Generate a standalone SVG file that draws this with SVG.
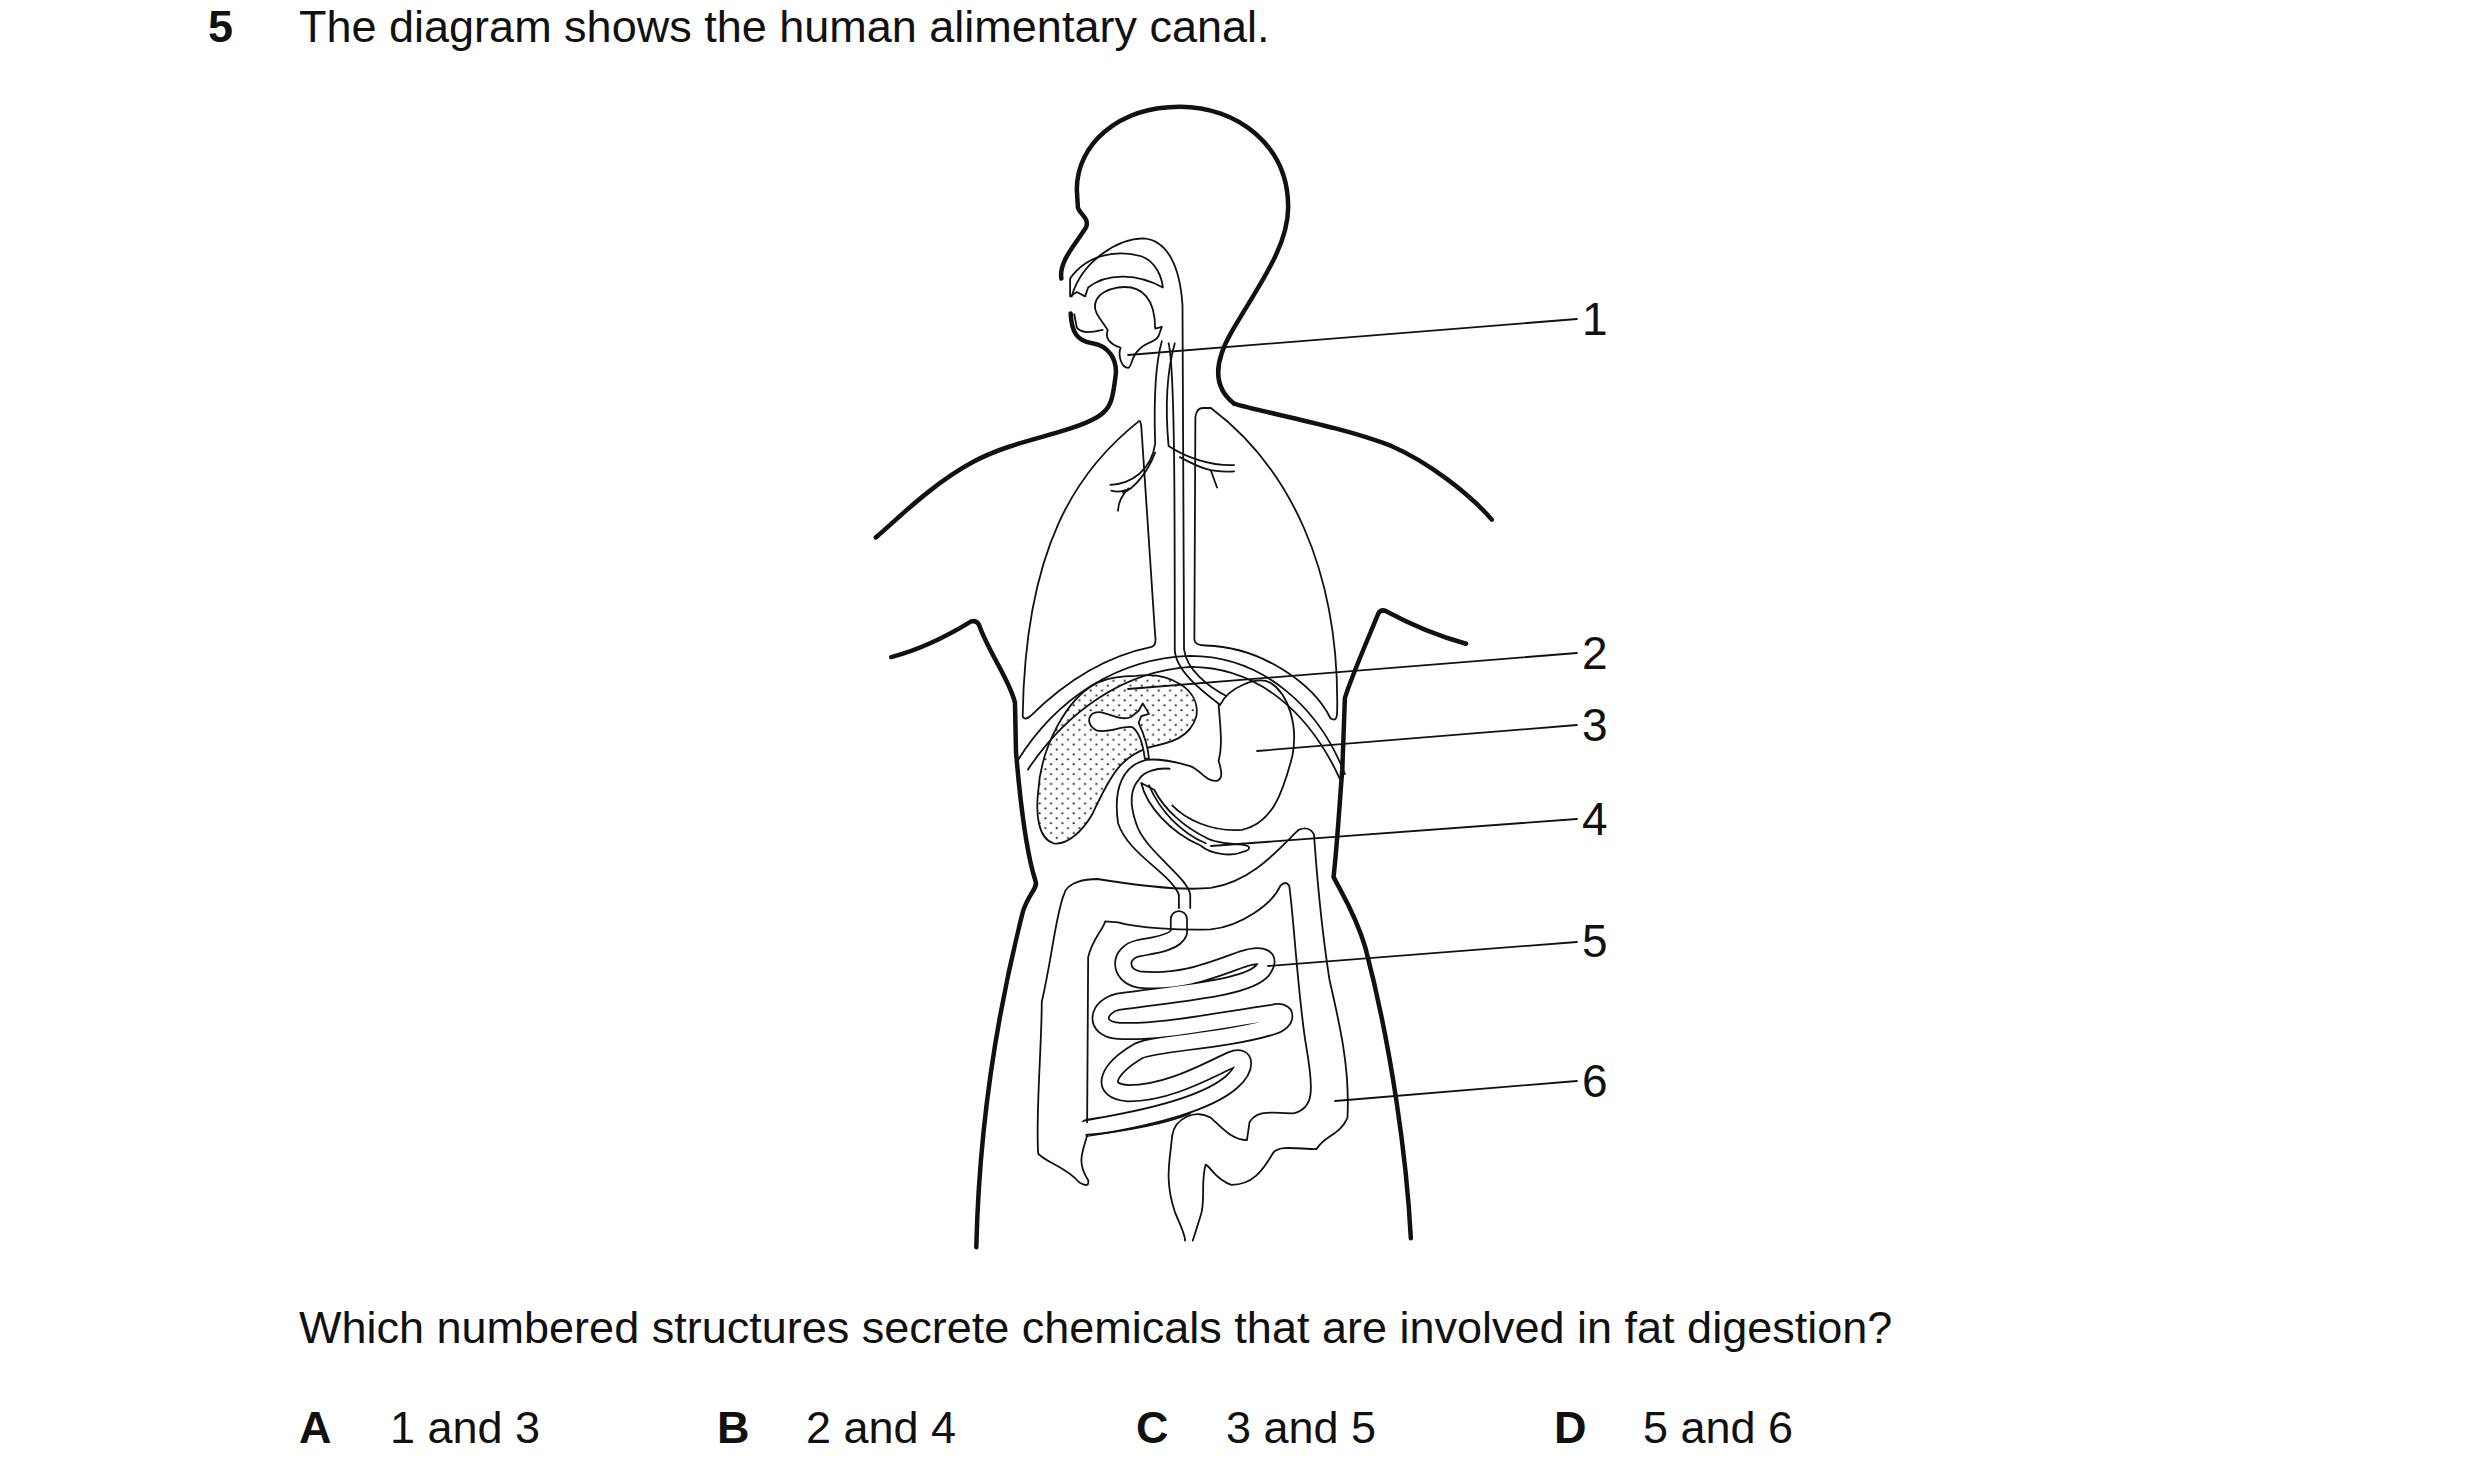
<svg xmlns="http://www.w3.org/2000/svg" width="2480" height="1483" viewBox="0 0 2480 1483">
<style>
text{font-family:"Liberation Sans",Arial,sans-serif;fill:#111}
.t{font-size:45px}
.b{font-weight:bold}
.n{font-size:46px}
path,line{fill:none;stroke:#111;vector-effect:non-scaling-stroke;stroke-linecap:round;stroke-linejoin:round}
.k{stroke-width:4.5}
.f{stroke-width:1.8}
</style>
<defs>
<pattern id="dots" width="22" height="22" patternUnits="userSpaceOnUse"><circle cx="5" cy="5" r="2.2" fill="#222"/><circle cx="16" cy="16" r="2.2" fill="#222"/></pattern>
</defs>
<rect width="2480" height="1483" fill="#fff"/>
<text class="t b" x="208" y="42">5</text>
<text class="t" x="299" y="42">The diagram shows the human alimentary canal.</text>

<g id="upper" transform="translate(850,100) scale(0.5155,0.4464)">
<g id="body-upper">
<path class="k" d="M745,680 C700,640 710,580 740,520 C790,420 850,330 850,240 C850,100 750,15 640,15 C520,15 440,100 440,200 L442,240 C445,255 465,265 458,285 C440,320 405,360 410,400"/>
<path class="k" d="M428,478 C430,520 440,540 470,545 C500,550 520,580 515,620 C510,660 510,690 480,710 C420,750 320,760 240,810 C160,860 100,930 50,980"/>
<path class="k" d="M745,680 C800,700 950,730 1050,775 C1120,810 1200,880 1245,940"/>
</g>
<g id="mouth">
<path class="f" d="M427,400 C460,345 520,335 565,350 C595,362 605,400 607,420 C560,390 500,385 462,420 L456,440 L440,430 L427,440 Z"/>
<path class="f" d="M430,440 C450,360 520,310 570,310 C615,315 640,370 645,460 L648,1230 C652,1275 695,1315 730,1335"/>
<path class="f" d="M485,490 C465,460 475,430 520,420 C570,412 592,450 592,512 L605,508 L598,530 C590,545 575,540 560,560 C545,575 548,595 540,600 C525,600 520,570 525,555 C500,545 495,530 500,515 Z"/>
<path class="f" d="M435,480 L440,510 C450,525 470,520 490,515"/>
</g>
<g id="trachea">
<path class="f" d="M605,540 C590,600 590,700 592,770 C585,830 545,860 505,862"/>
<path class="f" d="M630,545 C612,620 612,700 618,775 C650,800 700,820 745,818"/>
<path class="f" d="M592,790 C575,840 550,870 530,880 M540,870 C528,885 520,905 520,920 M640,800 C680,825 700,835 745,832 M700,830 L712,868 M507,875 C520,880 535,875 545,870"/>
<path class="f" d="M618,545 C630,600 630,900 630,1230 C630,1280 690,1330 718,1355"/>
</g>
<g id="lungs">
<path class="f" d="M560,720 C440,830 340,1000 335,1380 Q338,1392 350,1380 C420,1300 500,1245 585,1225 Q595,1222 592,1200 L565,730 Q563,716 560,720 Z"/>
<path class="f" d="M685,690 Q672,690 670,710 L668,1210 Q670,1222 690,1222 C800,1225 900,1310 932,1385 Q945,1395 945,1370 C950,1050 850,820 700,690 Z"/>
</g>
</g>

<g id="lower" transform="translate(850,600) scale(0.5155,0.4464)">
<g id="body-lower">
<path class="k" d="M80,128 C140,110 190,80 235,48 Q245,45 250,55 C270,120 310,180 320,230 L322,340 C330,450 340,560 360,630 C365,645 345,660 335,700 C280,950 250,1200 245,1450"/>
<path class="k" d="M1195,98 C1140,80 1080,50 1040,25 Q1030,20 1025,30 C1000,100 970,180 960,220 L955,380 C950,450 945,550 938,620 C950,650 980,700 1000,780 C1050,1000 1080,1250 1088,1430"/>
</g>
<g id="diaphragm">
<path class="f" d="M325,360 C400,220 520,130 660,125 C800,125 910,240 960,390"/>
<path class="f" d="M345,380 C420,250 530,160 660,150 C790,150 890,250 950,400"/>
</g>
<g id="liver">
<path class="f" style="fill:url(#dots)" d="M555,170 C620,160 680,200 672,260 C660,310 620,320 580,330 C530,350 510,380 470,480 C450,520 420,550 395,545 C365,535 360,480 365,430 C370,330 420,220 480,185 C505,172 530,170 555,170 Z"/>
<path class="f" style="fill:#fff" d="M470,255 C490,240 520,275 545,262 L560,248 L568,232 L575,245 L580,255 L565,260 L560,275 C570,300 578,330 580,355 L572,356 C568,320 560,295 548,285 C530,280 500,300 478,292 C462,282 460,265 470,255 Z"/>
</g>
<g id="stomach">
<path class="f" d="M718,235 C735,195 790,170 815,185 C850,210 870,280 858,350 C840,430 820,500 760,515 C700,520 650,490 625,460"/>
<path class="f" d="M715,235 C720,300 722,330 715,360 C720,380 725,400 712,405 C690,408 680,380 660,372 C630,362 600,355 575,358 C530,370 510,420 520,500 C540,570 620,610 638,660 L638,690"/>
<path class="f" d="M620,378 C595,375 570,385 562,400 C545,420 540,450 555,500 C570,560 655,620 660,660 L660,690"/>
<path class="f" d="M565,410 C575,460 620,520 680,550 C700,570 740,575 760,565 C780,560 778,550 760,548 C720,545 700,540 690,532 C650,510 610,470 590,425 Z"/>
<path class="f" d="M580,415 C600,470 640,520 690,545"/>
</g>
<g id="intestines">
<path d="M638,715 L638,745 C630,770 580,775 560,780 C520,790 520,840 560,850 C640,860 700,830 760,805 C800,790 820,800 800,830 C770,870 640,880 520,900 C480,910 470,960 520,965 C600,970 700,945 820,925 C850,915 850,945 820,955 C720,990 600,990 560,1010 C500,1050 480,1100 540,1105 C620,1105 700,1050 740,1030 C770,1015 770,1050 740,1080 C700,1120 620,1150 500,1175 L462,1182" style="stroke:#111;stroke-width:18"/>
<path d="M638,715 L638,745 C630,770 580,775 560,780 C520,790 520,840 560,850 C640,860 700,830 760,805 C800,790 820,800 800,830 C770,870 640,880 520,900 C480,910 470,960 520,965 C600,970 700,945 820,925 C850,915 850,945 820,955 C720,990 600,990 560,1010 C500,1050 480,1100 540,1105 C620,1105 700,1050 740,1030 C770,1015 770,1050 740,1080 C700,1120 620,1150 500,1175 L450,1186" style="stroke:#fff;stroke-width:14.5"/>
<path class="f" d="M460,1170 L462,800 C470,760 490,740 495,720 L520,722 C560,735 640,740 700,738 C760,730 820,680 835,640 Q845,628 852,640 C860,700 870,900 885,1000 C900,1100 900,1140 860,1150 C820,1150 790,1140 775,1170 L770,1210 C740,1210 720,1180 700,1160 C670,1140 630,1160 625,1200 C620,1260 610,1300 630,1370 C640,1400 650,1420 650,1435"/>
<path class="f" d="M460,1200 C450,1240 440,1260 462,1300 Q465,1318 445,1305 C420,1270 380,1260 365,1240 C360,1150 372,1000 372,900 C392,800 400,700 415,660 C420,630 460,625 480,625 C560,640 640,652 700,645 C780,630 830,560 870,515 Q890,505 900,525 C905,600 910,700 930,850 C950,950 970,1050 965,1160 C950,1200 920,1200 905,1230 C870,1230 830,1220 820,1240 C800,1280 780,1310 740,1310 C710,1300 700,1270 690,1265 C680,1300 690,1350 680,1380 L665,1435"/>
<path class="f" d="M458,1198 C540,1190 620,1170 660,1150"/>
</g>
</g>

<g id="connectors">
<line class="f" x1="1128" y1="355" x2="1577" y2="319"/>
<line class="f" x1="1128" y1="689" x2="1577" y2="653"/>
<line class="f" x1="1257" y1="751" x2="1577" y2="725"/>
<line class="f" x1="1211" y1="846" x2="1577" y2="819"/>
<line class="f" x1="1268" y1="966" x2="1577" y2="942"/>
<line class="f" x1="1335" y1="1101" x2="1577" y2="1081"/>
</g>
<g id="labels">
<text class="n" x="1582" y="335">1</text>
<text class="n" x="1582" y="669">2</text>
<text class="n" x="1582" y="741">3</text>
<text class="n" x="1582" y="835">4</text>
<text class="n" x="1582" y="957">5</text>
<text class="n" x="1582" y="1097">6</text>
</g>
<text class="t" x="299" y="1343">Which numbered structures secrete chemicals that are involved in fat digestion?</text>
<text class="t b" x="299" y="1443">A</text><text class="t" x="390" y="1443">1 and 3</text>
<text class="t b" x="717" y="1443">B</text><text class="t" x="806" y="1443">2 and 4</text>
<text class="t b" x="1136" y="1443">C</text><text class="t" x="1226" y="1443">3 and 5</text>
<text class="t b" x="1554" y="1443">D</text><text class="t" x="1643" y="1443">5 and 6</text>
</svg>
